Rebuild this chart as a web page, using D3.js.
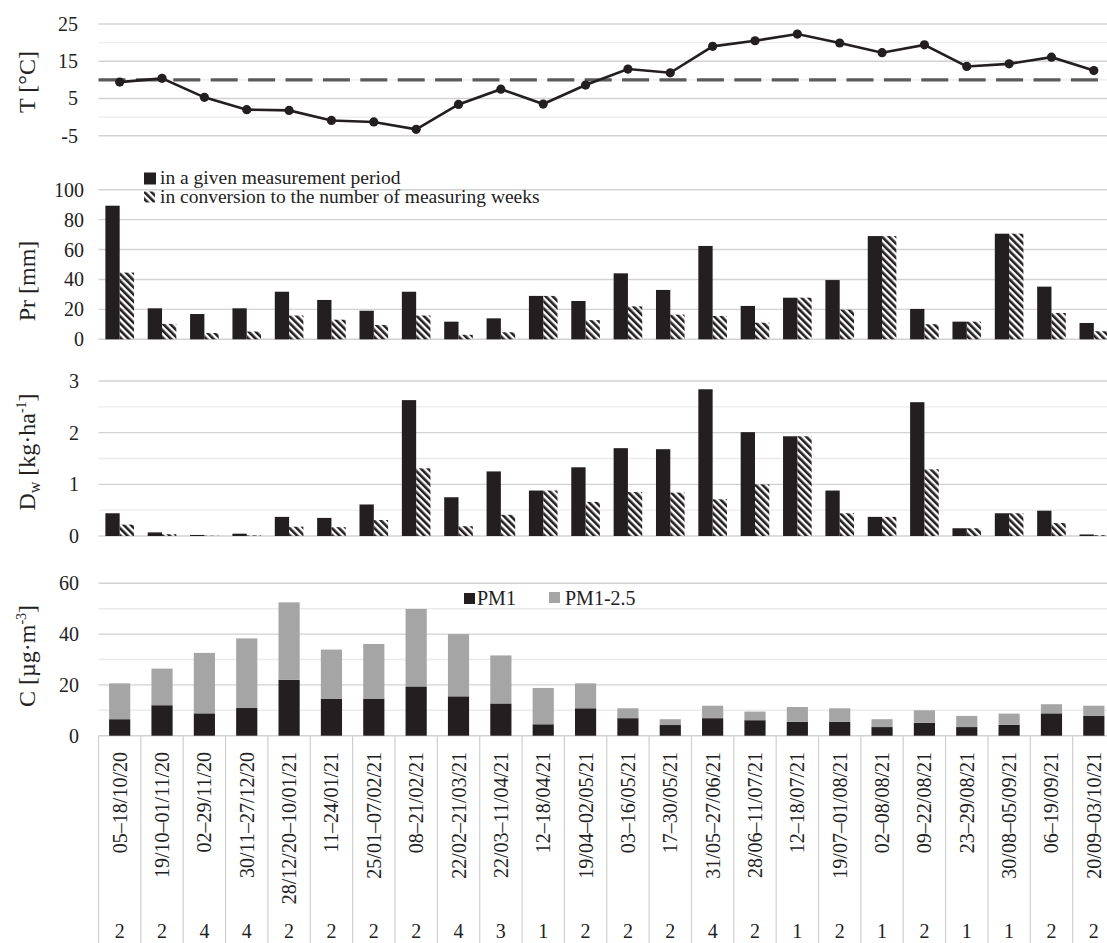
<!DOCTYPE html>
<html>
<head>
<meta charset="utf-8">
<script src="https://cdn.jsdelivr.net/npm/d3@7"></script>
<style>
  html, body { margin: 0; padding: 0; background: #fff; }
  svg { display: block; font-family: "Liberation Serif", "Times New Roman", serif; }
</style>
</head>
<body>
<svg id="chart" width="1107" height="943"></svg>
<script>
// Measurement periods (two-week sampling windows, 2020/2021)
const periods = [
  "05–18/10/20", "19/10–01/11/20", "02–29/11/20", "30/11–27/12/20", "28/12/20–10/01/21",
  "11–24/01/21", "25/01–07/02/21", "08–21/02/21", "22/02–21/03/21", "22/03–11/04/21",
  "12–18/04/21", "19/04–02/05/21", "03–16/05/21", "17–30/05/21", "31/05–27/06/21",
  "28/06–11/07/21", "12–18/07/21", "19/07–01/08/21", "02–08/08/21", "09–22/08/21",
  "23–29/08/21", "30/08–05/09/21", "06–19/09/21", "20/09–03/10/21"
];
// Number of measuring weeks in each period
const weeks = [2, 2, 4, 4, 2, 2, 2, 2, 4, 3, 1, 2, 2, 2, 4, 2, 1, 2, 1, 2, 1, 1, 2, 2];

// Mean air temperature [°C]
const temperature = [9.4, 10.4, 5.3, 2.0, 1.8, -0.9, -1.3, -3.3, 3.4, 7.5, 3.5, 8.6,
  12.9, 11.9, 19.0, 20.5, 22.3, 19.9, 17.3, 19.4, 13.6, 14.3, 16.1, 12.5];
const tempThreshold = 10;

// Precipitation [mm]
const precipPeriod = [89.3, 20.7, 16.9, 20.7, 31.8, 26.3, 19.1, 31.8, 11.8, 14.0, 29.0, 25.6,
  44.1, 33.0, 62.4, 22.3, 27.8, 39.6, 69.0, 20.3, 11.8, 70.6, 35.2, 10.9];
const precipWeekly = [44.6, 10.3, 4.2, 5.2, 15.9, 13.1, 9.6, 15.9, 3.0, 4.7, 29.0, 12.8,
  22.0, 16.5, 15.6, 11.1, 27.8, 19.8, 69.0, 10.1, 11.8, 70.6, 17.6, 5.4];

// Wet deposition [kg·ha⁻¹]
const depoPeriod = [0.44, 0.07, 0.02, 0.045, 0.37, 0.35, 0.61, 2.63, 0.75, 1.25, 0.88, 1.33,
  1.70, 1.68, 2.84, 2.01, 1.93, 0.88, 0.37, 2.59, 0.15, 0.44, 0.49, 0.03];
const depoWeekly = [0.22, 0.035, 0.005, 0.011, 0.18, 0.17, 0.31, 1.31, 0.19, 0.41, 0.88, 0.66,
  0.85, 0.84, 0.71, 1.0, 1.93, 0.44, 0.37, 1.29, 0.15, 0.44, 0.25, 0.015];

// Particulate matter concentration [µg·m⁻³], stacked
const pm1 = [6.5, 12.0, 8.8, 10.9, 22.0, 14.6, 14.6, 19.4, 15.5, 12.7, 4.5, 10.8,
  6.9, 4.2, 6.9, 6.1, 5.5, 5.5, 3.4, 5.1, 3.4, 4.3, 8.8, 7.9];
const pm1to25 = [14.1, 14.4, 23.8, 27.4, 30.5, 19.3, 21.5, 30.5, 24.5, 18.9, 14.3, 9.8,
  3.9, 2.3, 4.9, 3.4, 5.8, 5.3, 3.1, 4.9, 4.4, 4.4, 3.6, 3.9];

const tempTicks = [-5, 5, 15, 25];
const tempGrid = [-5, 0, 5, 10, 15, 20, 25];
const precipTicks = [0, 20, 40, 60, 80, 100];
const depoTicks = [0, 1, 2, 3];
const depoGrid = [0, 0.5, 1, 1.5, 2, 2.5, 3];
const concTicks = [0, 20, 40, 60];
const concGrid = [0, 10, 20, 30, 40, 50, 60];

const INK = "#231f20";
const GREY = "#a5a5a5";
const GRID_MAJOR = "#d2d2d2";
const GRID_MINOR = "#ebebeb";

const svg = d3.select("#chart");
const plotLeft = 98.5, plotRight = 1115;

const x = d3.scaleBand().domain(periods).range([plotLeft, plotRight]);
const cx = d => x(d) + x.bandwidth() / 2;

// hatch for the per-week series
const defs = svg.append("defs");
defs.append("pattern")
  .attr("id", "hatch")
  .attr("patternUnits", "userSpaceOnUse")
  .attr("width", 5).attr("height", 10)
  .attr("patternTransform", "rotate(-45)")
  .append("rect").attr("width", 2.6).attr("height", 10).attr("fill", INK);

function gridAndTicks(y, grid, ticks, labelX, fmt) {
  const g = svg.append("g");
  g.selectAll("line.grid").data(grid).join("line")
    .attr("x1", plotLeft).attr("x2", 1107)
    .attr("y1", d => y(d)).attr("y2", d => y(d))
    .attr("stroke", d => ticks.includes(d) ? GRID_MAJOR : GRID_MINOR)
    .attr("stroke-width", 1.4);
  g.selectAll("text").data(ticks).join("text")
    .attr("x", labelX).attr("y", d => y(d)).attr("dy", "0.35em")
    .attr("text-anchor", "end").attr("font-size", 20).attr("fill", "#222")
    .text(fmt || (d => d));
  return g;
}

function axisTitle(cy, build) {
  const t = svg.append("text")
    .attr("transform", `translate(35,${cy}) rotate(-90)`)
    .attr("text-anchor", "middle").attr("font-size", 24).attr("fill", "#222");
  build(t);
}

// ---- Panel 1: temperature ----
const yT = d3.scaleLinear().domain([-5, 25]).range([135.7, 24]);
gridAndTicks(yT, tempGrid, tempTicks, 78);
svg.append("line")
  .attr("x1", plotLeft).attr("x2", 1107)
  .attr("y1", yT(tempThreshold)).attr("y2", yT(tempThreshold))
  .attr("stroke", "#5a5a5a").attr("stroke-width", 3.2)
  .attr("stroke-dasharray", "27,10.4");
svg.append("path")
  .datum(temperature)
  .attr("fill", "none").attr("stroke", INK).attr("stroke-width", 2.6)
  .attr("d", d3.line().x((d, i) => cx(periods[i])).y(d => yT(d)));
svg.append("g").selectAll("circle").data(temperature).join("circle")
  .attr("cx", (d, i) => cx(periods[i])).attr("cy", d => yT(d))
  .attr("r", 4.6).attr("fill", INK);
axisTitle(82, t => t.text("T [°C]"));

// ---- Panel 2: precipitation ----
const yP = d3.scaleLinear().domain([0, 100]).range([339.3, 189.7]);
gridAndTicks(yP, precipTicks, precipTicks, 84);
const pair = d3.scaleBand().domain(["period", "weekly"]).range([-14.3, 14.3]);

function pairedBars(y, a, b) {
  const g = svg.append("g");
  g.selectAll("rect.a").data(a).join("rect")
    .attr("x", (d, i) => cx(periods[i]) + pair("period"))
    .attr("width", pair.bandwidth())
    .attr("y", d => y(d)).attr("height", d => y(0) - y(d))
    .attr("fill", INK);
  g.selectAll("rect.b").data(b).join("rect")
    .attr("x", (d, i) => cx(periods[i]) + pair("weekly"))
    .attr("width", pair.bandwidth())
    .attr("y", d => y(d)).attr("height", d => y(0) - y(d))
    .attr("fill", "url(#hatch)");
}
pairedBars(yP, precipPeriod, precipWeekly);
axisTitle(281, t => t.text("Pr [mm]"));

// legend for the paired series
const lg = svg.append("g").attr("font-size", 19.5).attr("fill", "#222");
lg.append("rect").attr("x", 144).attr("y", 172.5).attr("width", 12).attr("height", 12).attr("fill", INK);
lg.append("text").attr("x", 160).attr("y", 183.5).attr("fill", "#222").text("in a given measurement period");
lg.append("rect").attr("x", 144).attr("y", 191.5).attr("width", 11).attr("height", 11).attr("fill", "url(#hatch)");
lg.append("text").attr("x", 160).attr("y", 203).attr("fill", "#222").text("in conversion to the number of measuring weeks");

// ---- Panel 3: wet deposition ----
const yD = d3.scaleLinear().domain([0, 3]).range([536, 381]);
gridAndTicks(yD, depoGrid, depoTicks, 79);
pairedBars(yD, depoPeriod, depoWeekly);
axisTitle(452, t => {
  t.append("tspan").text("D");
  t.append("tspan").attr("font-size", 16).attr("dy", 5).text("w");
  t.append("tspan").attr("dy", -5).text(" [kg·ha");
  t.append("tspan").attr("font-size", 14).attr("dy", -9).text("-1");
  t.append("tspan").attr("dy", 9).text("]");
});

// ---- Panel 4: PM concentration ----
const yC = d3.scaleLinear().domain([0, 60]).range([735.7, 583.3]);
gridAndTicks(yC, concGrid, concTicks, 79);
const stacked = d3.stack().keys(["pm1", "pm1to25"])(
  periods.map((p, i) => ({ period: p, pm1: pm1[i], pm1to25: pm1to25[i] }))
);
const stackColors = { pm1: INK, pm1to25: GREY };
const barW = x.bandwidth() * 0.5;
svg.append("g").selectAll("g").data(stacked).join("g")
  .attr("fill", s => stackColors[s.key])
  .selectAll("rect").data(s => s).join("rect")
  .attr("x", d => cx(d.data.period) - barW / 2)
  .attr("width", barW)
  .attr("y", d => yC(d[1]))
  .attr("height", d => yC(d[0]) - yC(d[1]));
axisTitle(656, t => {
  t.append("tspan").text("C [µg·m");
  t.append("tspan").attr("font-size", 14).attr("dy", -9).text("-3");
  t.append("tspan").attr("dy", 9).text("]");
});

const cl = svg.append("g").attr("font-size", 20);
cl.append("rect").attr("x", 464).attr("y", 593).attr("width", 11).attr("height", 11).attr("fill", INK);
cl.append("text").attr("x", 477).attr("y", 604.5).attr("fill", "#222").text("PM1");
cl.append("rect").attr("x", 549).attr("y", 592).attr("width", 11).attr("height", 11).attr("fill", GREY);
cl.append("text").attr("x", 565).attr("y", 604.5).attr("fill", "#222").text("PM1-2.5");

// ---- category table under the bars ----
const table = svg.append("g");
const bounds = periods.map(p => x(p)).concat([plotRight]);
table.selectAll("line").data(bounds).join("line")
  .attr("x1", d => d).attr("x2", d => d)
  .attr("y1", yC(0)).attr("y2", 943)
  .attr("stroke", "#cfcfcf").attr("stroke-width", 1.2);
table.selectAll("text.period").data(periods).join("text")
  .attr("class", "period")
  .attr("transform", d => `translate(${cx(d)},752) rotate(-90)`)
  .attr("dy", "0.35em")
  .attr("text-anchor", "end").attr("font-size", 20).attr("fill", "#222")
  .text(d => d);
table.selectAll("text.weeks").data(weeks).join("text")
  .attr("class", "weeks")
  .attr("x", (d, i) => cx(periods[i])).attr("y", 938)
  .attr("text-anchor", "middle").attr("font-size", 20).attr("fill", "#222")
  .text(d => d);
</script>
</body>
</html>
